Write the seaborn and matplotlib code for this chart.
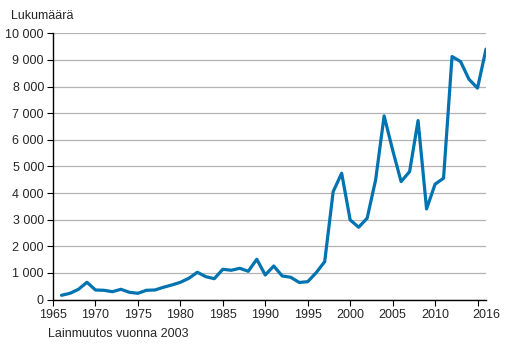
import matplotlib
matplotlib.use("Agg")
import matplotlib.pyplot as plt
import seaborn as sns
import pandas as pd
from matplotlib.ticker import FuncFormatter, FixedLocator

years = list(range(1966, 2017))
counts = [158, 233, 383, 646, 357, 346, 293, 383, 270, 233,
          346, 357, 459, 545, 646, 797, 1023, 857, 782, 1135,
          1098, 1173, 1060, 1511, 921, 1259, 883, 835, 640, 669,
          1008, 1421, 4053, 4744, 2989, 2714, 3053, 4492, 6898, 5620,
          4429, 4805, 6722, 3402, 4331, 4556, 9128, 8940, 8271, 7940,
          9406]
x_tick_labels = ["1965", "1970", "1975", "1980", "1985", "1990",
                 "1995", "2000", "2005", "2010", "2016"]
y_label = "Lukumäärä"
note = "Lainmuutos vuonna 2003"

df = pd.DataFrame({"year": years, "count": counts})

sns.set_style("white")
plt.rcParams["font.family"] = ["Liberation Sans", "DejaVu Sans"]
plt.rcParams["font.size"] = 9

fig = plt.figure(figsize=(5.19, 3.45), dpi=100)
ax = fig.add_axes([53 / 519, 1 - 299.5 / 345, (486 - 53) / 519, (299.5 - 33.3) / 345])

sns.lineplot(data=df, x="year", y="count", ax=ax, color="#0073b0", linewidth=2.3)

ax.set_xlim(1965, 2016)
ax.set_ylim(0, 10000)
ax.set_yticks(range(0, 10001, 1000))
ax.yaxis.set_major_formatter(FuncFormatter(lambda v, p: f"{int(v):,}".replace(",", " ")))
ax.set_xticks([int(s) for s in x_tick_labels])
ax.set_xticklabels(x_tick_labels)
ax.xaxis.set_minor_locator(FixedLocator([2015]))
ax.tick_params(axis="x", which="minor", bottom=True, length=4, width=0.8, color="black")
ax.tick_params(axis="both", which="major", length=4, width=0.8, color="black",
               labelsize=9, pad=2.5, direction="out", bottom=True, left=True)
ax.xaxis.get_major_ticks()[-1].tick1line.set_visible(False)

ax.grid(axis="y", color="#b3b3b3", linewidth=0.9)
ax.set_axisbelow(True)
for s in ["top", "right"]:
    ax.spines[s].set_visible(False)
for s in ["left", "bottom"]:
    ax.spines[s].set_color("black")
    ax.spines[s].set_linewidth(1.0)
ax.set_xlabel("")
ax.set_ylabel("")

fig.text(11 / 519, 1 - 15.7 / 345, y_label, ha="left", va="center", fontsize=9)
fig.text(48 / 519, 1 - 334 / 345, note, ha="left", va="center", fontsize=9)

fig.savefig("out.png", dpi=100)
